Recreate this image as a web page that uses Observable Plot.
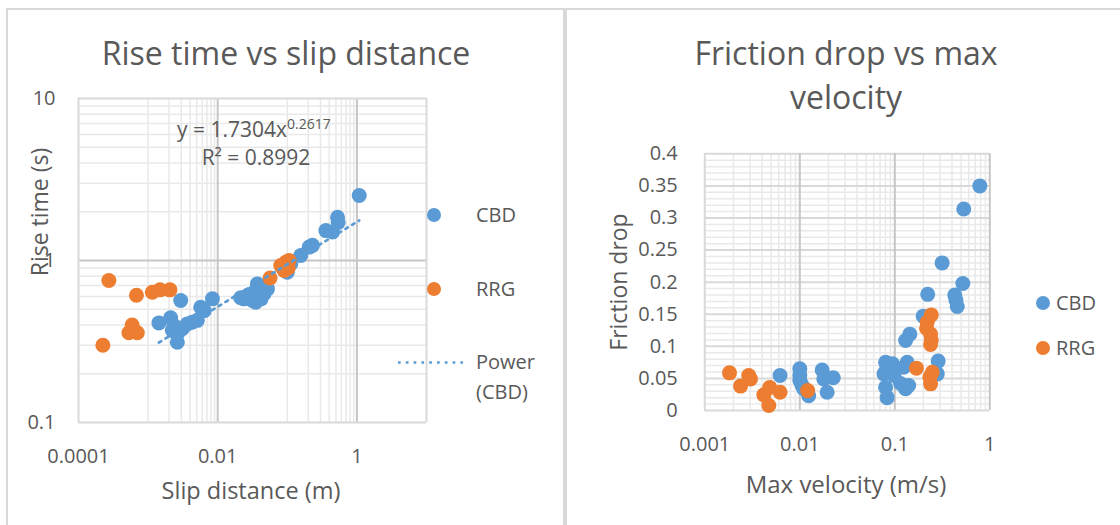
<!DOCTYPE html>
<html><head><meta charset="utf-8">
<script src="https://cdn.jsdelivr.net/npm/d3@7"></script>
<script src="https://cdn.jsdelivr.net/npm/@observablehq/plot@0.6"></script>
<style>
body{margin:0;background:#fff;}
#wrap{position:relative;width:1120px;height:525px;overflow:hidden;background:#fff;}
#wrap svg{position:absolute;top:0;}
</style></head><body><div id="wrap"></div>
<script>
// ---- Left chart: Rise time vs slip distance ----
const cbdSlip = [0.00294,0.00143,0.00211,0.00235,0.00263,0.00263,0.00223,0.0031,0.00366,0.0043,0.0051,0.0057,0.0064,0.0084,
  0.0214,0.0239,0.0267,0.0315,0.0352,0.0333,0.0393,0.0463,0.044,0.0372,0.0519,0.030,0.042,
  0.100,0.112,0.156,0.206,0.230,0.358,0.447,0.527,0.538,1.08];
const cbdRise = [0.566,0.412,0.443,0.397,0.352,0.313,0.370,0.379,0.406,0.416,0.427,0.515,0.490,0.580,
  0.589,0.580,0.608,0.566,0.553,0.637,0.653,0.623,0.684,0.717,0.668,0.600,0.580,
  0.847,0.955,1.074,1.21,1.24,1.53,1.50,1.85,1.72,2.52];
const rrgSlip = [0.000273,0.000224,0.00068,0.00059,0.00053,0.00070,0.00115,0.00148,0.00206,0.0565,0.0805,0.095,0.106,0.090,0.103];
const rrgRise = [0.753,0.300,0.610,0.400,0.358,0.358,0.637,0.659,0.659,0.780,0.930,0.976,1.000,0.867,0.900];
const slipTicks = [0.0001, 0.01, 1];
const riseTicks = [0.1, 1, 10];
const powerA = 1.7304, powerB = 0.2617, powerR2 = 0.8992;

// ---- Right chart: Friction drop vs max velocity ----
const cbdVel = [0.785,0.532,0.315,0.52,0.428,0.44,0.454,0.222,0.199,0.144,0.13,0.286,0.28,
  0.08,0.094,0.077,0.08,0.083,0.098,0.115,0.13,0.14,0.135,0.124,0.082,
  0.0062,0.010,0.010,0.010,0.011,0.0124,0.0172,0.0179,0.0225,0.0194,0.0105];
const cbdDrop = [0.350,0.314,0.230,0.198,0.180,0.172,0.162,0.181,0.147,0.119,0.109,0.077,0.057,
  0.075,0.073,0.057,0.036,0.020,0.0545,0.042,0.034,0.039,0.075,0.0675,0.065,
  0.0545,0.065,0.0545,0.047,0.034,0.023,0.063,0.049,0.051,0.0285,0.040];
const rrgVel = [0.00182,0.00238,0.0029,0.00303,0.00418,0.00483,0.00472,0.0062,0.0121,
  0.169,0.242,0.219,0.216,0.238,0.242,0.238,0.248,0.234,0.238];
const rrgDrop = [0.0587,0.038,0.0545,0.049,0.0244,0.036,0.0078,0.0285,0.031,
  0.066,0.149,0.1375,0.128,0.119,0.109,0.103,0.0597,0.052,0.0415];
const velTicks = [0.001, 0.01, 0.1, 1];
const dropTicks = [0, 0.05, 0.1, 0.15, 0.2, 0.25, 0.3, 0.35, 0.4];

const seriesNames = ["CBD", "RRG"];
const BLUE = "#5B9BD5", ORANGE = "#ED7D31", TXT = "#595959";
const MINOR = "#e9e9e9", MAJOR = "#c6c6c6", EDGE = "#d9d9d9";

const rows = (xs, ys) => xs.map((x, i) => ({x, y: ys[i]}));
const baseStyle = {fontFamily: "'Open Sans', sans-serif", fontSize: "20px", color: TXT, background: "transparent", overflow: "visible"};

// gridline positions (scale structure, not data)
const leftMinorX = [];
[0.001, 0.1].forEach(b => { for (let k = 1; k <= 9; k++) leftMinorX.push(+(k * b).toPrecision(3)); });
const leftMinorY = [];
[0.1, 1].forEach(b => { for (let k = 2; k <= 9; k++) leftMinorY.push(+(k * b).toPrecision(3)); });

const ext = d3.extent(cbdSlip);
const trend = ext.map(x => ({x, y: powerA * Math.pow(x, powerB)}));

const left = Plot.plot({
  width: 560, height: 525,
  marginLeft: 78, marginRight: 134, marginTop: 98, marginBottom: 103,
  style: baseStyle,
  x: {type: "log", domain: [1e-4, 10], ticks: slipTicks, tickFormat: d => String(d), tickSize: 0, tickPadding: 26, label: null},
  y: {type: "log", domain: [0.1, 10], ticks: riseTicks, tickFormat: d => String(d), tickSize: 0, tickPadding: 23, label: null},
  marks: [
    Plot.ruleX(leftMinorX, {stroke: MINOR, strokeWidth: 1.5}),
    Plot.ruleY(leftMinorY, {stroke: MINOR, strokeWidth: 1.5}),
    Plot.ruleX([0.01, 1], {stroke: MAJOR, strokeWidth: 2}),
    Plot.ruleY([1], {stroke: MAJOR, strokeWidth: 2}),
    Plot.ruleX([1e-4, 10], {stroke: EDGE, strokeWidth: 2}),
    Plot.ruleY([0.1, 10], {stroke: EDGE, strokeWidth: 2}),
    Plot.dot(rows(cbdSlip, cbdRise), {x: "x", y: "y", r: 7.5, fill: BLUE}),
    Plot.dot(rows(rrgSlip, rrgRise), {x: "x", y: "y", r: 7.5, fill: ORANGE}),
    Plot.line(trend, {x: "x", y: "y", stroke: BLUE, strokeWidth: 2.7, strokeDasharray: "2.7 5.1"})
  ]
});
left.style.left = "0px";

const rightMinorX = [];
[0.001, 0.01, 0.1].forEach(b => { for (let k = 2; k <= 9; k++) rightMinorX.push(+(k * b).toPrecision(3)); });
const rightMinorY = d3.range(0, 41).map(i => i / 100).filter((v, i) => i % 5 !== 0);

const right = Plot.plot({
  width: 560, height: 525,
  marginLeft: 144.3, marginRight: 130.7, marginTop: 153.3, marginBottom: 115,
  style: baseStyle,
  x: {type: "log", domain: [0.001, 1], ticks: velTicks, tickFormat: d => String(d), tickSize: 0, tickPadding: 26, label: null},
  y: {domain: [0, 0.4], ticks: dropTicks, tickFormat: d => String(d), tickSize: 0, tickPadding: 27, label: null},
  marks: [
    Plot.ruleX(rightMinorX, {stroke: MINOR, strokeWidth: 1.5}),
    Plot.ruleY(rightMinorY, {stroke: MINOR, strokeWidth: 1.5}),
    Plot.ruleY(dropTicks.slice(1), {stroke: EDGE, strokeWidth: 2}),
    Plot.ruleX([0.01, 0.1, 1], {stroke: MAJOR, strokeWidth: 2}),
    Plot.ruleX([0.001], {stroke: EDGE, strokeWidth: 2}),
    Plot.ruleY([0], {stroke: EDGE, strokeWidth: 2}),
    Plot.dot(rows(cbdVel, cbdDrop), {x: "x", y: "y", r: 7.5, fill: BLUE}),
    Plot.dot(rows(rrgVel, rrgDrop), {x: "x", y: "y", r: 7.5, fill: ORANGE})
  ]
});
right.style.left = "560px";

const wrap = document.getElementById("wrap");
wrap.appendChild(left);
wrap.appendChild(right);

// ---- overlay: borders, titles, axis titles, legends, equation ----
const ov = d3.select(wrap).append("svg")
  .attr("width", 1120).attr("height", 525)
  .style("left", "0px").style("pointer-events", "none")
  .attr("font-family", "'Open Sans', sans-serif").attr("fill", TXT);

ov.append("rect").attr("x", 6).attr("y", 8).attr("width", 1114).attr("height", 2).attr("fill", EDGE);
ov.append("rect").attr("x", 6).attr("y", 8).attr("width", 2).attr("height", 517).attr("fill", EDGE);
ov.append("rect").attr("x", 563).attr("y", 8).attr("width", 4).attr("height", 517).attr("fill", EDGE);

function txt(s, x, y, size, anchor = "middle", rot = 0) {
  const t = ov.append("text").attr("font-size", size).attr("text-anchor", anchor).text(s);
  if (rot) t.attr("transform", `translate(${x},${y}) rotate(${rot})`);
  else t.attr("x", x).attr("y", y);
  return t;
}
txt("Rise time vs slip distance", 286, 65, 32);
txt("Friction drop vs max", 846, 65, 32);
txt("velocity", 846, 109, 32);
txt("Rise time (s)", 48, 212, 23, "middle", -90);
txt("Slip distance (m)", 251, 499, 23.5);
txt("Friction drop", 627, 282, 23, "middle", -90);
txt("Max velocity (m/s)", 846, 493, 24);

// equation
const eq = ov.append("text").attr("x", 177).attr("y", 137).attr("font-size", 21);
eq.append("tspan").text(`y = ${powerA}x`);
eq.append("tspan").attr("font-size", 14).attr("dy", -8).text(String(powerB));
txt(`R² = ${powerR2}`, 256, 165, 21);

// left legend
const colors = [BLUE, ORANGE];
[215, 289].forEach((cy, i) => {
  ov.append("circle").attr("cx", 434).attr("cy", cy).attr("r", 7).attr("fill", colors[i]);
  txt(seriesNames[i], 476, cy + 7, 20, "start");
});
ov.append("line").attr("x1", 398).attr("x2", 463).attr("y1", 362.5).attr("y2", 362.5)
  .attr("stroke", BLUE).attr("stroke-width", 2.7).attr("stroke-dasharray", "2.7 5.1");
txt("Power", 476, 369, 20, "start");
txt(`(${seriesNames[0]})`, 476, 399, 20, "start");

// right legend
[303, 348].forEach((cy, i) => {
  ov.append("circle").attr("cx", 1043).attr("cy", cy).attr("r", 7).attr("fill", colors[i]);
  txt(seriesNames[i], 1056, cy + 7, 20, "start");
});
</script>
</body></html>
